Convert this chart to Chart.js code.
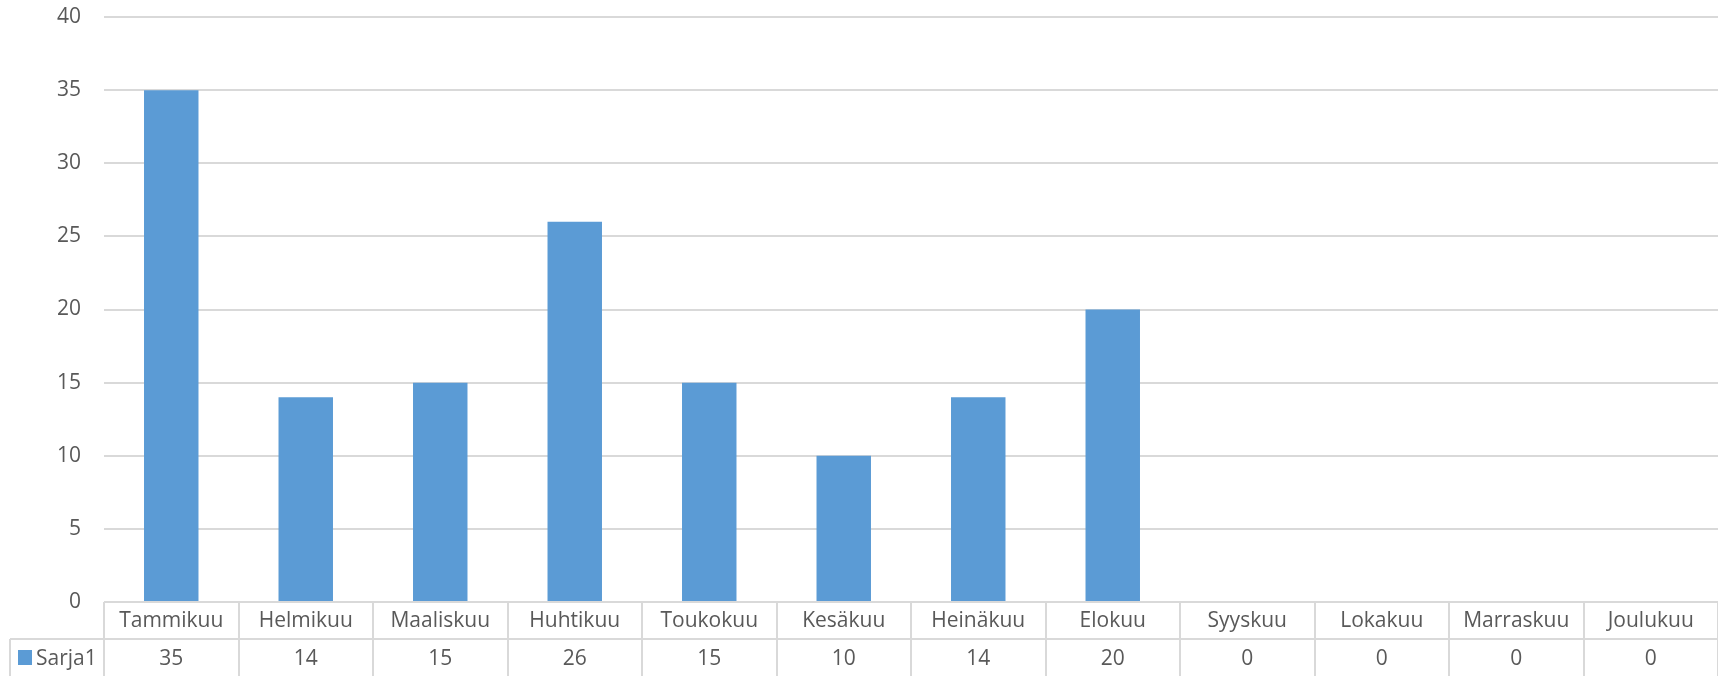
<!DOCTYPE html>
<html>
<head>
<meta charset="utf-8">
<script src="https://cdn.jsdelivr.net/npm/chart.js@4/dist/chart.umd.min.js"></script>
<style>
  html, body { margin: 0; padding: 0; background: #fff; }
  #wrap { width: 1718px; height: 676px; position: relative; }
</style>
</head>
<body>
<div id="wrap"><canvas id="myChart"></canvas></div>
<script>
var months = ['Tammikuu', 'Helmikuu', 'Maaliskuu', 'Huhtikuu', 'Toukokuu', 'Kesäkuu',
              'Heinäkuu', 'Elokuu', 'Syyskuu', 'Lokakuu', 'Marraskuu', 'Joulukuu'];
var sarja1 = [35, 14, 15, 26, 15, 10, 14, 20, 0, 0, 0, 0];
var seriesName = 'Sarja1';
var yTicks = [0, 5, 10, 15, 20, 25, 30, 35, 40];

var FONT = '"Open Sans", "Liberation Sans", sans-serif';
var TEXT = '#595959';
var LINE = '#d9d9d9';
var BAR = '#5b9bd5';

// draws the data table under the plot (category row + values row + legend key)
var dataTable = {
    id: 'dataTable',
    afterDraw: function(chart) {
        var ctx = chart.ctx;
        var x = chart.scales.x;
        var area = chart.chartArea;
        var top = area.bottom;
        var mid = top + 37;
        var bottom = chart.height;
        var step = (area.right - area.left) / months.length;
        var legendLeft = 10;

        ctx.save();
        ctx.strokeStyle = LINE;
        ctx.lineWidth = 2;
        ctx.beginPath();
        ctx.moveTo(area.left, top);
        ctx.lineTo(area.right, top);
        ctx.moveTo(legendLeft, mid);
        ctx.lineTo(area.right, mid);
        ctx.moveTo(legendLeft, mid);
        ctx.lineTo(legendLeft, bottom);
        for (var i = 0; i <= months.length; i++) {
            var lx = Math.round(area.left + i * step);
            ctx.moveTo(lx, top);
            ctx.lineTo(lx, bottom);
        }
        ctx.stroke();

        ctx.fillStyle = TEXT;
        ctx.font = '21px ' + FONT;
        ctx.textAlign = 'center';
        ctx.textBaseline = 'middle';
        for (var j = 0; j < months.length; j++) {
            var cx = x.getPixelForValue(j);
            ctx.fillText(months[j], cx, top + 19);
            ctx.fillText(String(sarja1[j]), cx, mid + 20);
        }

        // legend key
        ctx.fillStyle = BAR;
        ctx.fillRect(18, mid + 11, 14, 15);
        ctx.fillStyle = TEXT;
        ctx.textAlign = 'left';
        ctx.fillText(seriesName, 36, mid + 20);
        ctx.restore();
    }
};

var ctx = document.getElementById('myChart').getContext('2d');
var myChart = new Chart(ctx, {
    type: 'bar',
    data: {
        labels: months,
        datasets: [{
            label: seriesName,
            data: sarja1,
            backgroundColor: BAR,
            borderWidth: 0,
            barPercentage: 0.405,
            categoryPercentage: 1
        }]
    },
    options: {
        responsive: true,
        maintainAspectRatio: false,
        animation: false,
        layout: { padding: { top: 17, right: 0, bottom: 74, left: 0 } },
        plugins: {
            legend: { display: false },
            tooltip: { enabled: false }
        },
        scales: {
            x: {
                display: false
            },
            y: {
                min: 0,
                max: 40,
                afterBuildTicks: function(axis) {
                    axis.ticks = yTicks.map(function(v) { return { value: v }; });
                },
                afterFit: function(axis) {
                    // fixed axis box, and no extra room taken by tick padding
                    axis.width = 104;
                    axis.paddingTop = 0;
                    axis.paddingBottom = 0;
                },
                ticks: {
                    color: TEXT,
                    padding: 23,
                    font: { family: FONT, size: 21 }
                },
                grid: { color: LINE, lineWidth: 2, drawTicks: false },
                border: { display: false }
            }
        }
    },
    plugins: [dataTable]
});
</script>
</body>
</html>
